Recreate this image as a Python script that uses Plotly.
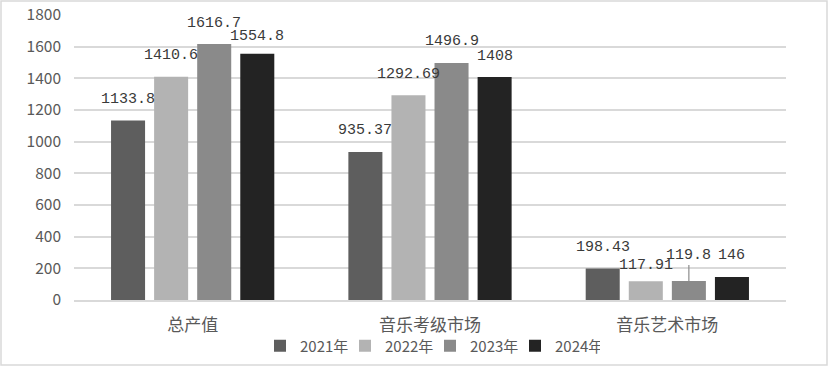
import plotly.graph_objects as go

categories = ["总产值", "音乐考级市场", "音乐艺术市场"]
years = ["2021年", "2022年", "2023年", "2024年"]
v2021 = [1133.8, 935.37, 198.43]
v2022 = [1410.6, 1292.69, 117.91]
v2023 = [1616.7, 1496.9, 119.8]
v2024 = [1554.8, 1408, 146]
labels2021 = ["1133.8", "935.37", "198.43"]
labels2022 = ["1410.6", "1292.69", "117.91"]
labels2023 = ["1616.7", "1496.9", "119.8"]
labels2024 = ["1554.8", "1408", "146"]
colors = ["#5e5e5e", "#b3b3b3", "#8a8a8a", "#232323"]

W, H = 828, 366
L, R, T, B = 74, 42, 15, 66
pw, ph = W - L - R, H - T - B
BARGAP, GROUPGAP = 0.274, 0.21
cat_px = pw / len(categories)
slot_px = cat_px * (1 - BARGAP) / len(years)

# label styling: default lift of the label centre above the bar top (px)
LIFT = 21
lift_override = {(0, 3): 17, (2, 1): 16}
leader = {(2, 2): -26}
label_font = dict(family="Liberation Mono, DejaVu Sans Mono, monospace", size=15, color="#3a3a3a")

fig = go.Figure()
series = [v2021, v2022, v2023, v2024]
series_labels = [labels2021, labels2022, labels2023, labels2024]
annotations = []
for si, (name, vals, labs, c) in enumerate(zip(years, series, series_labels, colors)):
    fig.add_trace(go.Bar(
        x=categories, y=vals, name=name, marker=dict(color=c, line=dict(width=0)),
    ))
    xs = (si - (len(years) - 1) / 2) * slot_px
    for ci, (cat, v, lab) in enumerate(zip(categories, vals, labs)):
        if (ci, si) in leader:
            annotations.append(dict(
                x=cat, y=v, xref="x", yref="y", text=lab, xshift=xs,
                showarrow=True, arrowhead=0, arrowwidth=1.2, arrowcolor="#8c8c8c",
                ax=0, ay=leader[(ci, si)], font=label_font, standoff=0,
            ))
        else:
            annotations.append(dict(
                x=cat, y=v, xref="x", yref="y", text=lab, xshift=xs,
                yshift=lift_override.get((ci, si), LIFT), yanchor="middle",
                showarrow=False, font=label_font,
            ))

def px_x(p):
    return (p - L) / pw

def px_y(p):
    return (H - B - p) / ph

fig.update_layout(
    width=W, height=H,
    margin=dict(l=L, r=R, t=T, b=B, autoexpand=False),
    paper_bgcolor="white", plot_bgcolor="white",
    barmode="group", bargap=BARGAP, bargroupgap=GROUPGAP,
    font=dict(family="Noto Sans CJK SC, Noto Sans, sans-serif", color="#595959"),
    legend=dict(orientation="h", x=0.5, xanchor="center", y=px_y(346), yanchor="middle",
                font=dict(size=15, color="#595959"), itemwidth=30, tracegroupgap=0,
                entrywidth=40, entrywidthmode="pixels", bgcolor="rgba(0,0,0,0)"),
    xaxis=dict(showgrid=False, showline=True, linecolor="#d9d9d9", linewidth=1.5,
               ticks="", tickfont=dict(size=17, color="#595959"), ticklabelstandoff=9),
    yaxis=dict(range=[0, 1800], dtick=200, showgrid=True, gridcolor="#d9d9d9", gridwidth=1.5,
               zeroline=False, showline=False, ticks="",
               tickfont=dict(size=15.5, color="#595959"), ticklabelstandoff=12),
    annotations=annotations,
    shapes=[dict(type="rect", xref="paper", yref="paper",
                 x0=px_x(1), x1=px_x(W - 1), y0=px_y(H - 1), y1=px_y(1),
                 line=dict(color="#d9d9d9", width=1.5), layer="below")],
)

fig.write_html("out.html")
